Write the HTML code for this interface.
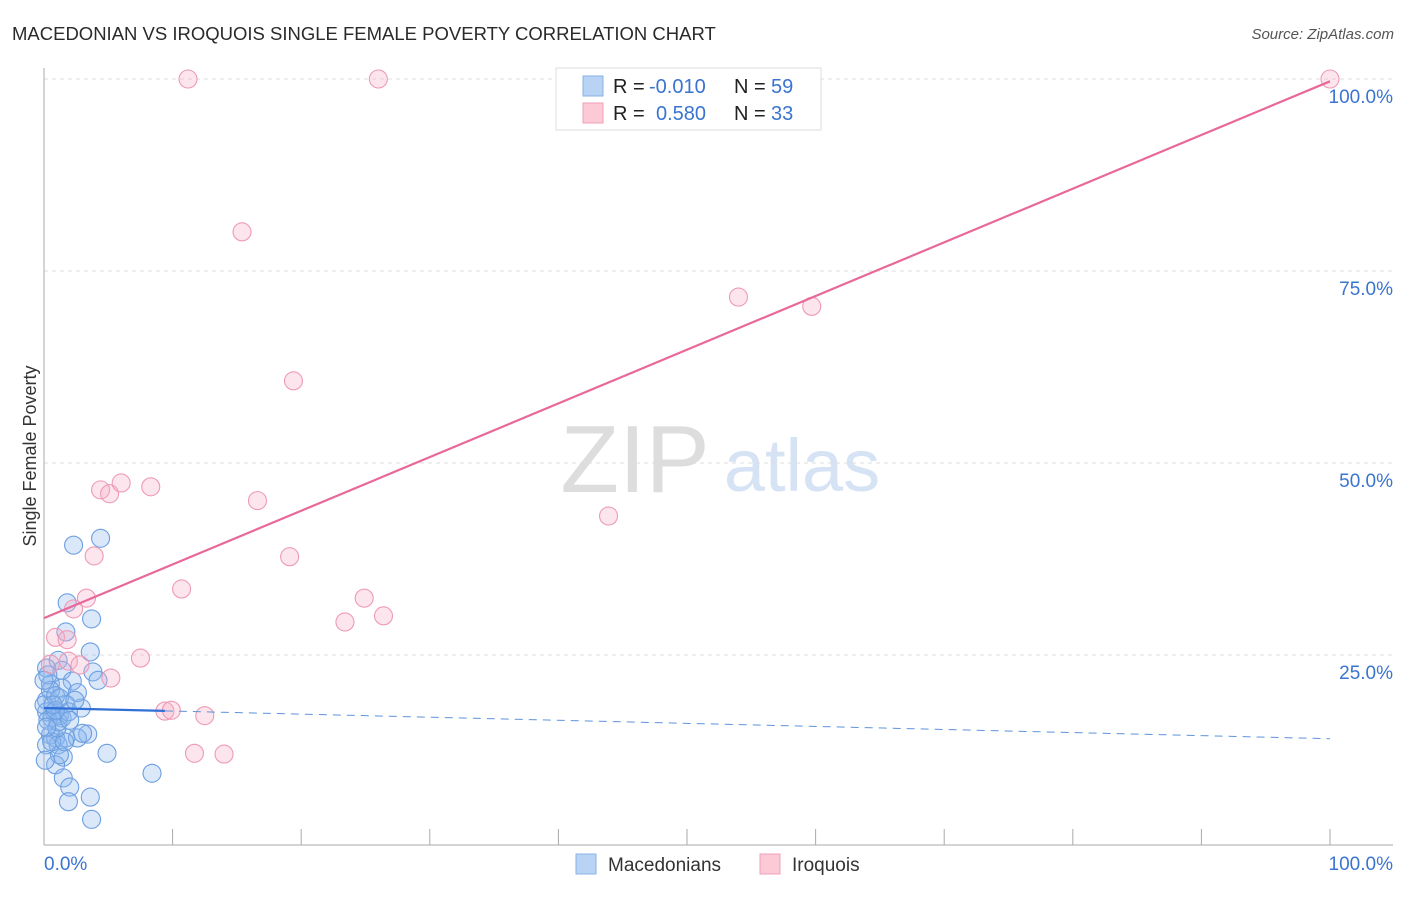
<!DOCTYPE html>
<html><head><meta charset="utf-8"><style>
body{margin:0;background:#fff;font-family:"Liberation Sans",sans-serif;}
svg text{font-family:"Liberation Sans",sans-serif;}
</style></head><body>
<svg id="chart" width="1406" height="892" xmlns="http://www.w3.org/2000/svg">
<text x="12" y="40" font-size="18.5" fill="#2a2a2a">MACEDONIAN VS IROQUOIS SINGLE FEMALE POVERTY CORRELATION CHART</text>
<text x="1394" y="39" font-size="15" fill="#555" font-style="italic" text-anchor="end">Source: ZipAtlas.com</text>
<text x="36" y="456" font-size="18" fill="#333" transform="rotate(-90 36 456)" text-anchor="middle">Single Female Poverty</text>
<text x="635" y="492" font-size="96" fill="#ddd" font-family="Liberation Serif" text-anchor="middle">ZIP</text>
<text x="802" y="491" font-size="74" fill="#d6e3f5" text-anchor="middle">atlas</text>
<g id="grid"></g><g id="axes"></g><g id="marks"></g>
<g>
<rect x="556" y="68" width="265" height="62" fill="#fff" stroke="#ddd"/>
<rect x="583" y="76" width="20" height="20" fill="#b9d3f5" stroke="#8ab2e6"/>
<rect x="583" y="103" width="20" height="20" fill="#fcc9d7" stroke="#f0a0b8"/>
<text x="613" y="93" font-size="20" fill="#222">R = </text><text x="649" y="93" font-size="20" fill="#3a74d0">-0.010</text>
<text x="734" y="93" font-size="20" fill="#222">N = </text><text x="771" y="93" font-size="20" fill="#3a74d0">59</text>
<text x="613" y="120" font-size="20" fill="#222">R = </text><text x="656" y="120" font-size="20" fill="#3a74d0">0.580</text>
<text x="734" y="120" font-size="20" fill="#222">N = </text><text x="771" y="120" font-size="20" fill="#3a74d0">33</text>
</g>
<g>
<rect x="576" y="854" width="20" height="20" fill="#b9d3f5" stroke="#8ab2e6"/>
<text x="608" y="871" font-size="19" fill="#333">Macedonians</text>
<rect x="760" y="854" width="20" height="20" fill="#fcc9d7" stroke="#f0a0b8"/>
<text x="792" y="871" font-size="19" fill="#333">Iroquois</text>
</g>
</svg>
<script>
const yTicks=[25,50,75,100];
const yTickLabels=["25.0%","50.0%","75.0%","100.0%"];
const blueX=[2.3,4.4,1.8,3.7,1.7,3.6,1.1,0.2,1.4,3.8,4.2,2.2,0.5,1.4,2.6,0.2,1.7,2.9,0.8,1.2,0.2,0.6,1.4,0.5,0.9,1.7,3.4,2.6,1.1,0.2,4.9,1.5,0.9,1.2,8.4,1.5,2.0,1.9,3.6,3.7,0.5,0,0.9,0.3,1.1,0.1,0.6,1.6,0.3,0.9,1.9,1.0,0.2,3.0,0,1.2,2.0,0.7,2.4];
const blueY=[39.3,40.2,31.8,29.7,28.0,25.4,24.3,23.3,23.0,22.8,21.7,21.6,21.2,20.7,20.1,19.1,18.6,18.1,17.6,17.1,17.6,16.8,16.8,14.6,14.2,14.2,14.7,14.2,13.3,13.3,12.2,11.7,10.7,12.0,9.6,9.0,7.8,5.9,6.5,3.6,20.4,18.5,19.7,16.5,16.3,11.3,13.7,13.7,22.4,17.8,17.6,15.5,15.6,14.8,21.7,19.4,16.5,18.5,19.1];
const pinkX=[11.2,26.0,100,15.4,19.4,54.0,59.7,4.4,5.1,6.0,8.3,16.6,43.9,3.9,19.1,10.7,3.3,2.3,24.9,26.4,23.4,0.9,1.8,1.9,7.5,5.2,0.5,9.4,9.9,12.5,11.7,14.0,2.8];
const pinkY=[100,100,100,80.1,60.7,71.6,70.4,46.5,46.0,47.4,46.9,45.1,43.1,37.9,37.8,33.6,32.4,31.0,32.4,30.1,29.3,27.3,27.0,24.2,24.6,22.0,23.8,17.7,17.8,17.1,12.2,12.1,23.7];
const blueTrend=[18.1,14.1];
const pinkTrend=[29.8,99.7];
const NS="http://www.w3.org/2000/svg";
const X=v=>44+v*12.86, Y=v=>847-v*7.68;
function mk(tag,attrs,parent){const e=document.createElementNS(NS,tag);for(const k in attrs)e.setAttribute(k,attrs[k]);parent.appendChild(e);return e;}
const grid=document.getElementById('grid'),axes=document.getElementById('axes'),marks=document.getElementById('marks');
yTicks.forEach((t,i)=>{
 const l=mk('line',{x1:44,x2:1393,y1:Y(t),y2:Y(t),stroke:'#ddd','stroke-dasharray':'4,4'},grid);
 
 
 const tx=mk('text',{x:1393,y:Y(t)+24,'font-size':19,fill:'#3a74d0','text-anchor':'end'},axes);
 tx.textContent=yTickLabels[i];
 
 
});
mk('line',{x1:44,x2:44,y1:68,y2:845,stroke:'#aaa'},axes);
mk('line',{x1:44,x2:1393,y1:845,y2:845,stroke:'#aaa'},axes);
for(let i=1;i<=10;i++){const t=mk('line',{x1:X(i*10),x2:X(i*10),y1:829,y2:845,stroke:'#aaa'},axes);
 
 }
let a=mk('text',{x:44,y:870,'font-size':19,fill:'#3a74d0'},axes);a.textContent='0.0%';


a=mk('text',{x:1393,y:870,'font-size':19,fill:'#3a74d0','text-anchor':'end'},axes);a.textContent='100.0%';


blueX.forEach((x,i)=>{const c=mk('circle',{cx:X(x),cy:Y(blueY[i]),r:9,fill:'rgba(140,182,238,0.32)',stroke:'#6d9fe0','stroke-width':1.1},marks);
 
 });
pinkX.forEach((x,i)=>{const c=mk('circle',{cx:X(x),cy:Y(pinkY[i]),r:9,fill:'rgba(248,175,198,0.32)',stroke:'#ee9ab6','stroke-width':1.1},marks);
 
 });
const bAt=x=>blueTrend[0]+(blueTrend[1]-blueTrend[0])*x/100;
let l=mk('line',{x1:X(0),y1:Y(bAt(0)),x2:X(9.4),y2:Y(bAt(9.4)),stroke:'#2f6fd6','stroke-width':2.2},marks);


l=mk('line',{x1:X(9.4),y1:Y(bAt(9.4)),x2:X(100),y2:Y(bAt(100)),stroke:'#5d93dc','stroke-width':1,'stroke-dasharray':'8,6'},marks);


l=mk('line',{x1:X(0),y1:Y(pinkTrend[0]),x2:X(100),y2:Y(pinkTrend[1]),stroke:'#e8689a','stroke-width':2.2},marks);


</script>
</body></html>
